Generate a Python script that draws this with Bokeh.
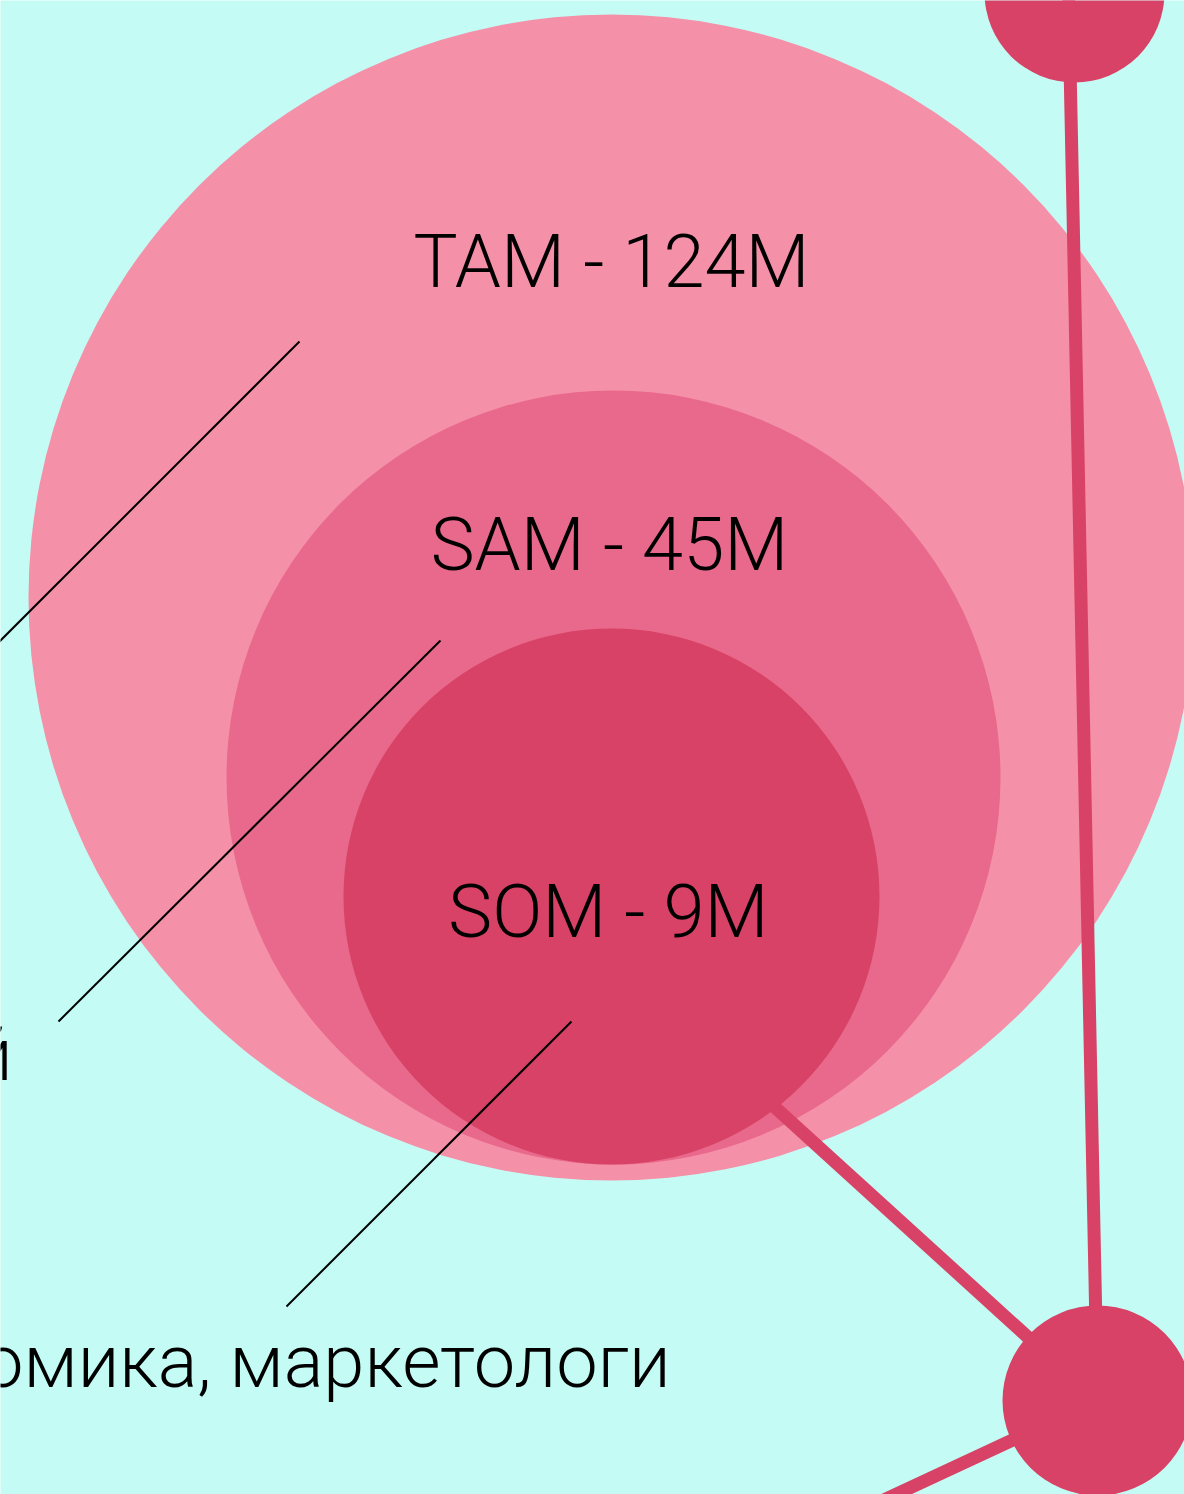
from bokeh.plotting import figure
from bokeh.models import Range1d
from bokeh.core.properties import value
from bokeh.embed import file_html
from bokeh.resources import INLINE

# ---- data ----
segments = ["TAM", "SAM", "SOM"]
market_millions = [124, 45, 9]
labels = [f"{s} - {v}M" for s, v in zip(segments, market_millions)]
audience_texts = [
    "Владельцы онлайн-школ и малых компаний",
    "Специалисты по юнит-экономика, маркетологи",
]

# ---- layout (pixel-like coordinates, y grows downward) ----
circle_x = [611, 613, 611]
circle_y = [597, 777, 896]
circle_r = [583, 387, 268]
circle_colors = ["#F590A9", "#E8698B", "#D84266"]
label_x = [611, 609, 608]
label_y = [261, 544, 911]

BG = "#C4FCF5"
NODE = "#D84266"
W, H = 1184, 1494
FONT = value("'Noto Sans Light', 'Roboto Light', 'Noto Sans'")

p = figure(width=W, height=H, output_backend="svg", toolbar_location=None,
           x_range=Range1d(0, W), y_range=Range1d(H, 0),
           background_fill_color=BG, border_fill_color=BG,
           min_border=0, outline_line_color=None)
p.axis.visible = False
p.grid.visible = False

# big circles TAM, SAM
p.circle(x=circle_x[:2], y=circle_y[:2], radius=circle_r[:2],
         fill_color=circle_colors[:2], line_color=None)

# connector from SOM to bottom node (beneath SOM)
p.segment(x0=[700], y0=[1039], x1=[1097], y1=[1400], line_color=NODE,
          line_width=13, line_cap="butt")

# SOM circle
p.circle(x=circle_x[2:], y=circle_y[2:], radius=circle_r[2:],
         fill_color=circle_colors[2:], line_color=None)

# vertical connector and lower-left connector
p.segment(x0=[1068, 1097], y0=[-8, 1400], x1=[1097, 850], y1=[1400, 1515],
          line_color=NODE, line_width=13, line_cap="butt")

# nodes
p.circle(x=[1074, 1097], y=[-8, 1400], radius=[90, 95],
         fill_color=NODE, line_color=None)

# leader lines
p.segment(x0=[299, 440, 571], y0=[341, 640, 1021],
          x1=[-10, 58, 286], y1=[650, 1021, 1306],
          line_color="black", line_width=2)

# circle labels
p.text(x=label_x, y=label_y, text=labels, text_align="center",
       text_baseline="alphabetic", text_font=FONT,
       text_font_size="74px", text_color="black")

# audience texts (mostly outside the view on the left)
p.text(x=[12, 670], y=[1054, 1361], text=audience_texts, text_align="right",
       text_baseline="alphabetic", text_font=FONT,
       text_font_size="74px", text_color="black")

open("out.html", "w").write(file_html(p, INLINE))
